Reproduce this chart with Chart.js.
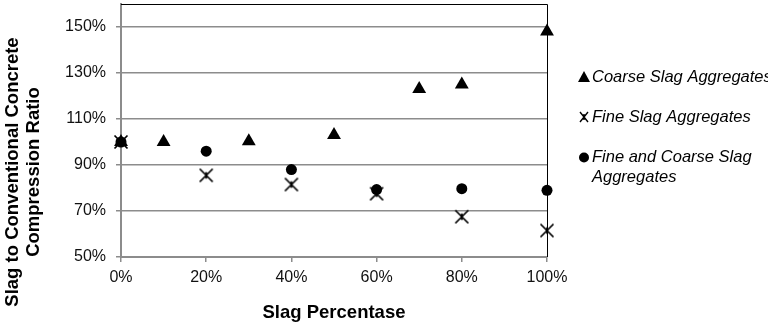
<!DOCTYPE html>
<html>
<head>
<meta charset="utf-8">
<script src="https://cdn.jsdelivr.net/npm/chart.js@4/dist/chart.umd.min.js"></script>
<style>
  html, body { margin: 0; padding: 0; background: #fff; }
  #wrap { width: 768px; height: 330px; position: relative; }
</style>
</head>
<body>
<div id="wrap"><canvas id="c" width="768" height="330"></canvas></div>
<script>
// ---- data ----
const seriesLabels = ['Coarse Slag Aggregates', 'Fine Slag Aggregates', 'Fine and Coarse Slag Aggregates'];
const legendLines = [['Coarse Slag Aggregates'], ['Fine Slag Aggregates'], ['Fine and Coarse Slag', 'Aggregates']];
const coarseX = [0, 10, 30, 50, 70, 80, 100];
const coarseY = [100, 100, 100.3, 103, 123, 125, 148];
const fineX = [0, 20, 40, 60, 80, 100];
const fineY = [100, 85.5, 81.5, 77.5, 67.5, 61.5];
const mixedX = [0, 20, 40, 60, 80, 100];
const mixedY = [100, 96, 88, 79.3, 79.7, 79];
const xTicks = [0, 20, 40, 60, 80, 100];
const yTicks = [50, 70, 90, 110, 130, 150];
const xTitle = 'Slag Percentase';
const yTitle = ['Slag to Conventional Concrete', 'Compression Ratio'];

const pts = (xs, ys) => xs.map((x, i) => ({ x, y: ys[i] }));
const FONT = '"Liberation Sans", Arial, sans-serif';

// asterisk-like marker (X with vertical bar)
function makeStar(size, lw) {
  const c = document.createElement('canvas');
  c.width = size; c.height = size;
  const g = c.getContext('2d');
  const h = size / 2, r = size / 2 - 1.5;
  g.strokeStyle = '#000';
  g.lineWidth = lw;
  g.beginPath();
  g.moveTo(h - r, h - r); g.lineTo(h + r, h + r);
  g.moveTo(h + r, h - r); g.lineTo(h - r, h + r);
  g.moveTo(h, h - r * 0.5); g.lineTo(h, h + r * 0.5);
  g.stroke();
  return c;
}
const starMarker = makeStar(16, 1.7);

const chartDecor = {
  id: 'chartDecor',
  beforeDatasetsDraw(chart) {
    const { ctx, chartArea: a } = chart;
    ctx.save();
    ctx.strokeStyle = '#000';
    ctx.lineWidth = 1;
    ctx.beginPath();
    ctx.moveTo(a.left, a.top + 0.5);
    ctx.lineTo(a.right + 0.5, a.top + 0.5);
    ctx.lineTo(a.right + 0.5, a.bottom);
    ctx.stroke();
    ctx.restore();
  },
  afterDraw(chart) {
    const { ctx, chartArea: a } = chart;
    ctx.save();
    ctx.fillStyle = '#000';
    // axis titles
    ctx.font = 'bold 18.5px ' + FONT;
    ctx.textAlign = 'center';
    ctx.textBaseline = 'middle';
    ctx.fillText(xTitle, (a.left + a.right) / 2, 313);
    ctx.save();
    ctx.translate(13, 172);
    ctx.rotate(-Math.PI / 2);
    ctx.fillText(yTitle[0], 0, 0);
    ctx.fillText(yTitle[1], 0, 21);
    ctx.restore();
    // legend
    const ys = [77, 117, 157];
    ctx.font = 'italic 16.5px ' + FONT;
    ctx.textAlign = 'left';
    chart.data.datasets.forEach((ds, i) => {
      const cy = ys[i];
      const cx = 584;
      ctx.fillStyle = '#000';
      ctx.strokeStyle = '#000';
      if (i === 0) {
        ctx.beginPath();
        ctx.moveTo(cx, cy - 6);
        ctx.lineTo(cx + 6, cy + 5);
        ctx.lineTo(cx - 6, cy + 5);
        ctx.closePath();
        ctx.fill();
      } else if (i === 1) {
        ctx.lineWidth = 1.4;
        ctx.beginPath();
        ctx.moveTo(cx - 4, cy - 5); ctx.lineTo(cx + 4, cy + 5);
        ctx.moveTo(cx + 4, cy - 5); ctx.lineTo(cx - 4, cy + 5);
        ctx.moveTo(cx, cy - 3); ctx.lineTo(cx, cy + 3);
        ctx.stroke();
      } else {
        ctx.beginPath();
        ctx.arc(cx, cy + 0.5, 5, 0, Math.PI * 2);
        ctx.fill();
      }
      legendLines[i].forEach((t, j) => ctx.fillText(t, 592, cy + j * 20));
    });
    ctx.restore();
  }
};

new Chart(document.getElementById('c'), {
  type: 'scatter',
  data: {
    datasets: [
      { label: seriesLabels[0], data: pts(coarseX, coarseY), pointStyle: 'triangle', pointRadius: 8, pointHoverRadius: 8,
        backgroundColor: '#000', borderColor: '#000', borderWidth: 0 },
      { label: seriesLabels[1], data: pts(fineX, fineY), pointStyle: starMarker, pointRadius: 8, pointHoverRadius: 8,
        backgroundColor: '#000', borderColor: '#000', borderWidth: 1.5 },
      { label: seriesLabels[2], data: pts(mixedX, mixedY), pointStyle: 'circle', pointRadius: 5.5, pointHoverRadius: 5.5,
        backgroundColor: '#000', borderColor: '#000', borderWidth: 0 }
    ]
  },
  options: {
    responsive: false,
    animation: false,
    events: [],
    clip: false,
    layout: { autoPadding: false, padding: { left: 0, right: 221, top: 4, bottom: 0 } },
    plugins: { legend: { display: false }, tooltip: { enabled: false } },
    scales: {
      x: {
        type: 'linear', min: 0, max: 100,
        afterFit(s) { s.height = 73; s.paddingTop = 0; s.paddingBottom = 0; },
        afterBuildTicks(s) { s.ticks = xTicks.map(v => ({ value: v })); },
        grid: { drawOnChartArea: false, drawTicks: true, tickLength: 5, color: '#8c8c8c', lineWidth: 1.5 },
        border: { color: '#8c8c8c', width: 2 },
        ticks: { padding: 6, color: '#111', font: { family: FONT, size: 16 }, callback: v => v + '%', maxRotation: 0 }
      },
      y: {
        type: 'linear', min: 50, max: 160,
        afterFit(s) { s.width = 121; s.paddingTop = 0; s.paddingBottom = 0; },
        afterBuildTicks(s) { s.ticks = yTicks.map(v => ({ value: v })); },
        grid: { drawOnChartArea: true, drawTicks: true, tickLength: 5, color: '#8c8c8c', lineWidth: 1.5 },
        border: { color: '#8c8c8c', width: 2 },
        ticks: { padding: 10, color: '#111', font: { family: FONT, size: 16 }, callback: v => v + '%' }
      }
    }
  },
  plugins: [chartDecor]
});
</script>
</body>
</html>
